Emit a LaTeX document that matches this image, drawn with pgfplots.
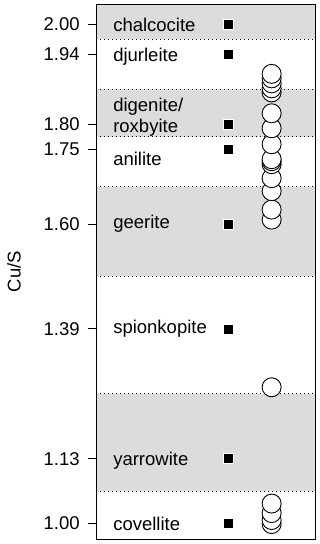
\documentclass[border=0pt]{standalone}
\usepackage{pgfplots}
\pgfplotsset{compat=1.18}
\usepackage{fontspec}
\setmainfont{Liberation Sans}
\definecolor{band}{RGB}{220,220,220}
\begin{document}
\fontsize{18.5}{21}\selectfont
\begin{tikzpicture}
\begin{axis}[
 scale only axis, width=219pt, height=535pt,
 xmin=0, xmax=1, ymin=0.969, ymax=2.041,
 xtick=\empty,
 ytick={1.00,1.13,1.39,1.60,1.75,1.80,1.94,2.00},
 yticklabel style={/pgf/number format/fixed, /pgf/number format/fixed zerofill, /pgf/number format/precision=2, xshift=-2pt},
 /pgf/number format/assume math mode=true,
 tick align=outside, ytick pos=left, major tick length=8pt,
 tick style={black, line width=0.8pt},
 axis line style={line width=0.8pt},
 axis on top,
 clip=false,
 font=\fontsize{18.5}{21}\selectfont,
]
% bands
\fill[band] (axis cs:0,1.065) rectangle (axis cs:1,1.26);
\fill[band] (axis cs:0,1.495) rectangle (axis cs:1,1.675);
\fill[band] (axis cs:0,1.775) rectangle (axis cs:1,1.87);
\fill[band] (axis cs:0,1.97) rectangle (axis cs:1,2.041);
\foreach \yy in {1.065,1.26,1.495,1.675,1.775,1.87,1.97}{
  \edef\tmp{\noexpand\draw[black, line width=0.6pt, dash pattern=on 0.8pt off 3.2pt] (axis cs:0,\yy) -- (axis cs:1,\yy);}\tmp
}
% labels
\node[anchor=west, inner sep=0pt] at (axis cs:0.078,2.00) {chalcocite};
\node[anchor=west, inner sep=0pt] at (axis cs:0.078,1.935) {djurleite};
\node[anchor=west, inner sep=0pt, align=left] at (axis cs:0.078,1.815) {digenite/\\roxbyite};
\node[anchor=west, inner sep=0pt] at (axis cs:0.078,1.73) {anilite};
\node[anchor=west, inner sep=0pt] at (axis cs:0.078,1.60) {geerite};
\node[anchor=west, inner sep=0pt] at (axis cs:0.078,1.39) {spionkopite};
\node[anchor=west, inner sep=0pt] at (axis cs:0.078,1.125) {yarrowite};
\node[anchor=west, inner sep=0pt] at (axis cs:0.078,1.00) {covellite};
% squares
\addplot[only marks, mark=square*, mark size=5pt, mark options={fill=black, draw=white, line width=0.6pt}] coordinates {
(0.604,2.00) (0.604,1.94) (0.604,1.80) (0.604,1.75) (0.604,1.60) (0.604,1.39) (0.604,1.13) (0.604,1.00)
};
% circles
\addplot[only marks, mark=*, mark size=9.5pt, mark options={fill=white, draw=black, line width=0.9pt}] coordinates {
(0.802,0.999) (0.802,1.007) (0.802,1.021) (0.802,1.040) (0.802,1.273)
(0.802,1.609) (0.802,1.629) (0.802,1.666) (0.802,1.692) (0.802,1.720) (0.802,1.726) (0.802,1.730)
(0.802,1.760) (0.802,1.792) (0.802,1.822) (0.802,1.864) (0.802,1.872) (0.802,1.882) (0.802,1.892) (0.802,1.901)
};
\coordinate (SW) at (rel axis cs:0,0);
\coordinate (NE) at (rel axis cs:1,1);
\coordinate (LM) at (rel axis cs:0,0.5);
\end{axis}
\node[rotate=90] at ([xshift=-82pt]LM) {Cu/S};
\pgfresetboundingbox
\path ([xshift=-96pt,yshift=-5pt]SW) rectangle ([xshift=5pt,yshift=4pt]NE);
\end{tikzpicture}
\end{document}
